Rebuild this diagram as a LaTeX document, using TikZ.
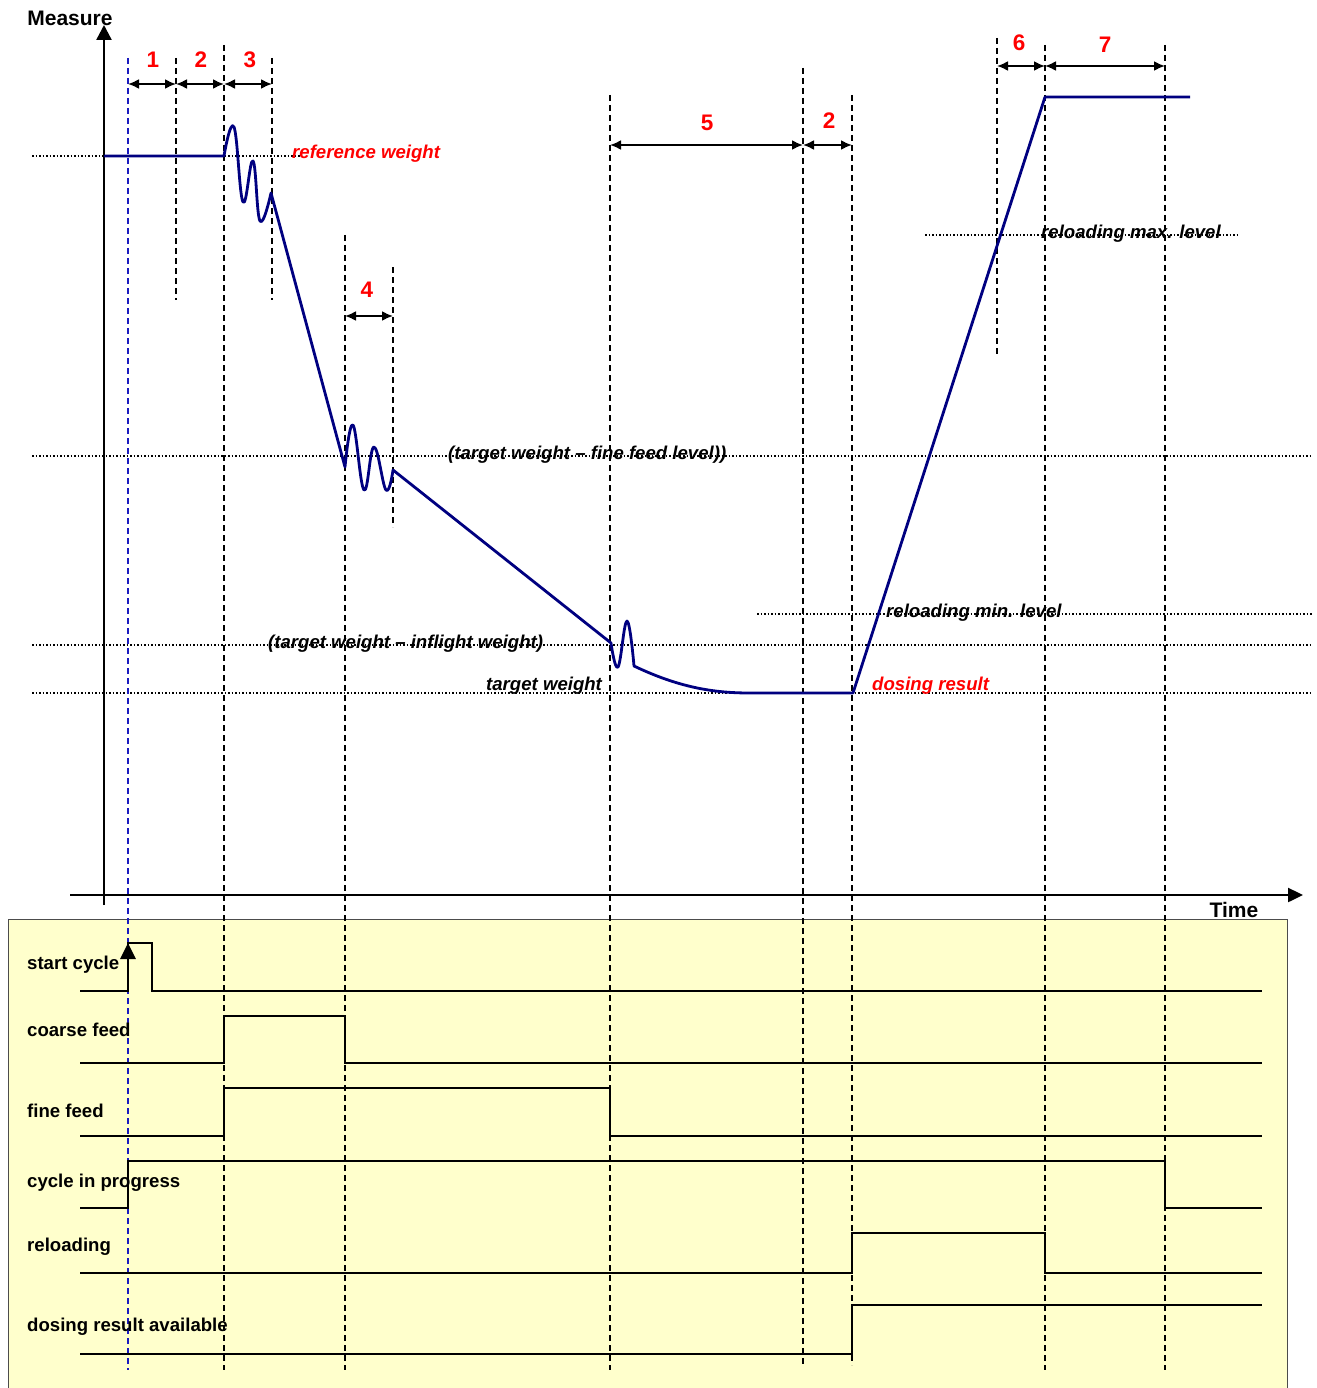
\documentclass[tikz,border=0pt]{standalone}
\usepackage{fontspec}
\setmainfont{Liberation Sans}
\usetikzlibrary{arrows.meta}
\definecolor{curveblue}{HTML}{000080}
\definecolor{startblue}{HTML}{1A1ABF}
\definecolor{panelyellow}{HTML}{FFFFCC}

\begin{document}
\begin{tikzpicture}[x=1pt,y=-1pt]

    \useasboundingbox (0,0) rectangle (1316,1388);

    \tikzset{signal/.style={line width=2.8pt},
        marker/.style={dash pattern=on 6pt off 4pt,line width=1.9pt},
        level/.style={dash pattern=on 1.5pt off 2pt,line width=1.5pt},
        dimarrow/.style={{Latex[length=11pt,width=10pt]}-{Latex[length=11pt,width=10pt]},line width=2pt},
        num/.style={text=red,font=\fontsize{22.5}{26}\selectfont\bfseries},
        lbl/.style={anchor=west,inner sep=0pt,font=\fontsize{18.6}{22}\selectfont\bfseries},
        lvl/.style={lbl,font=\fontsize{18.6}{22}\selectfont\bfseries\itshape}}

    % signal panel
    \draw[fill=panelyellow,draw=black!70,line width=1pt] (8,919) rectangle (1287,1395);

    % axes
    \draw[line width=2.4pt,-{Triangle[length=15pt,width=15pt]}] (104,905) -- (104,25);
    \draw[line width=2.4pt,-{Triangle[length=15pt,width=14pt]}] (70,895) -- (1303,895);
    \node[font=\fontsize{21}{25}\selectfont\bfseries] (measure) at (70,18) {Measure};
    \node[font=\fontsize{21}{25}\selectfont\bfseries] (time) at (1234,910) {Time};

    % levels
    \draw[level] (32,156) -- (300,156);
    \draw[level] (925,235) -- (1240,235);
    \draw[level] (32,456) -- (1313,456);
    \draw[level] (757,614) -- (1313,614);
    \draw[level] (32,645) -- (1313,645);
    \draw[level] (32,693) -- (1313,693);

    % time markers
    \draw[marker,startblue] (128,58) -- (128,1370);
    \draw[marker] (176,58) -- (176,300);
    \draw[marker] (224,45) -- (224,1370);
    \draw[marker] (272,58) -- (272,300);
    \draw[marker] (345,235) -- (345,1370);
    \draw[marker] (393,267) -- (393,527);
    \draw[marker] (610,95) -- (610,1370);
    \draw[marker] (803,68) -- (803,1365);
    \draw[marker] (852,95) -- (852,1365);
    \draw[marker] (997,38) -- (997,355);
    \draw[marker] (1045,45) -- (1045,1370);
    \draw[marker] (1165,45) -- (1165,1370);

    % phases
    \draw[dimarrow] (128,84) -- (176,84);
    \draw[dimarrow] (176,84) -- (224,84);
    \draw[dimarrow] (224,84) -- (272,84);
    \draw[dimarrow] (345,316) -- (393,316);
    \draw[dimarrow] (610,145) -- (803,145);
    \draw[dimarrow] (803,145) -- (852,145);
    \draw[dimarrow] (997,66) -- (1045,66);
    \draw[dimarrow] (1045,66) -- (1165,66);
    \node[num] (ph1) at (153,60) {1};
    \node[num] (ph2) at (201,60) {2};
    \node[num] (ph3) at (250,60) {3};
    \node[num] (ph4) at (367,290) {4};
    \node[num] (ph5) at (707,123) {5};
    \node[num] (ph2b) at (829,121) {2};
    \node[num] (ph6) at (1019,43) {6};
    \node[num] (ph7) at (1105,45) {7};

    % weight curve
    \draw[curveblue,line width=2.8pt,line join=round]
        (104,156) -- (224,156)
        -- plot[smooth,tension=0.7] coordinates {(224,156) (234,127) (243,202) (253,161) (260,221) (271,193)}
        -- (345,467)
        -- plot[smooth,tension=0.7] coordinates {(345,467) (353,425) (364,490) (374,447) (386,490) (393,470)}
        -- (611,643)
        -- plot[smooth,tension=0.7] coordinates {(611,643) (618,667) (627,621) (634,666)}
        .. controls (680,688) and (715,693) .. (750,693)
        -- (853,693) -- (1045,97) -- (1190,97);

    % level labels
    \node[lvl,text=red] (refw) at (292,154) {reference weight};
    \node[lvl] (maxlvl) at (1041,234) {reloading max. level};
    \node[lvl] (finelvl) at (448,455) {(target weight -- fine feed level))};
    \node[lvl] (minlvl) at (886,613) {reloading min. level};
    \node[lvl] (inflight) at (268,644) {(target weight -- inflight weight)};
    \node[lvl] (target) at (486,686) {target weight};
    \node[lvl,text=red] (dosing) at (872,686) {dosing result};

    % signals
    \draw[signal] (80,991) -- (128,991) -- (128,943) -- (152,943) -- (152,991) -- (1262,991);
    \draw[signal,-{Triangle[length=16pt,width=15pt]}] (128,991) -- (128,943);
    \draw[signal] (80,1063) -- (224,1063) -- (224,1016) -- (345,1016) -- (345,1063) -- (1262,1063);
    \draw[signal] (80,1136) -- (224,1136) -- (224,1088) -- (610,1088) -- (610,1136) -- (1262,1136);
    \draw[signal] (80,1208) -- (128,1208) -- (128,1161) -- (1165,1161) -- (1165,1208) -- (1262,1208);
    \draw[signal] (80,1273) -- (852,1273) -- (852,1233) -- (1045,1233) -- (1045,1273) -- (1262,1273);
    \draw[signal] (80,1354) -- (852,1354) -- (852,1305) -- (1262,1305);

    \node[lbl] (sstart) at (27,965) {start cycle};
    \node[lbl] (scoarse) at (27,1030) {coarse feed};
    \node[lbl] (sfine) at (27,1111) {fine feed};
    \node[lbl] (scycle) at (27,1183) {cycle in progress};
    \node[lbl] (sreload) at (27,1247) {reloading};
    \node[lbl] (sresult) at (27,1327) {dosing result available};

\end{tikzpicture}
\end{document}
